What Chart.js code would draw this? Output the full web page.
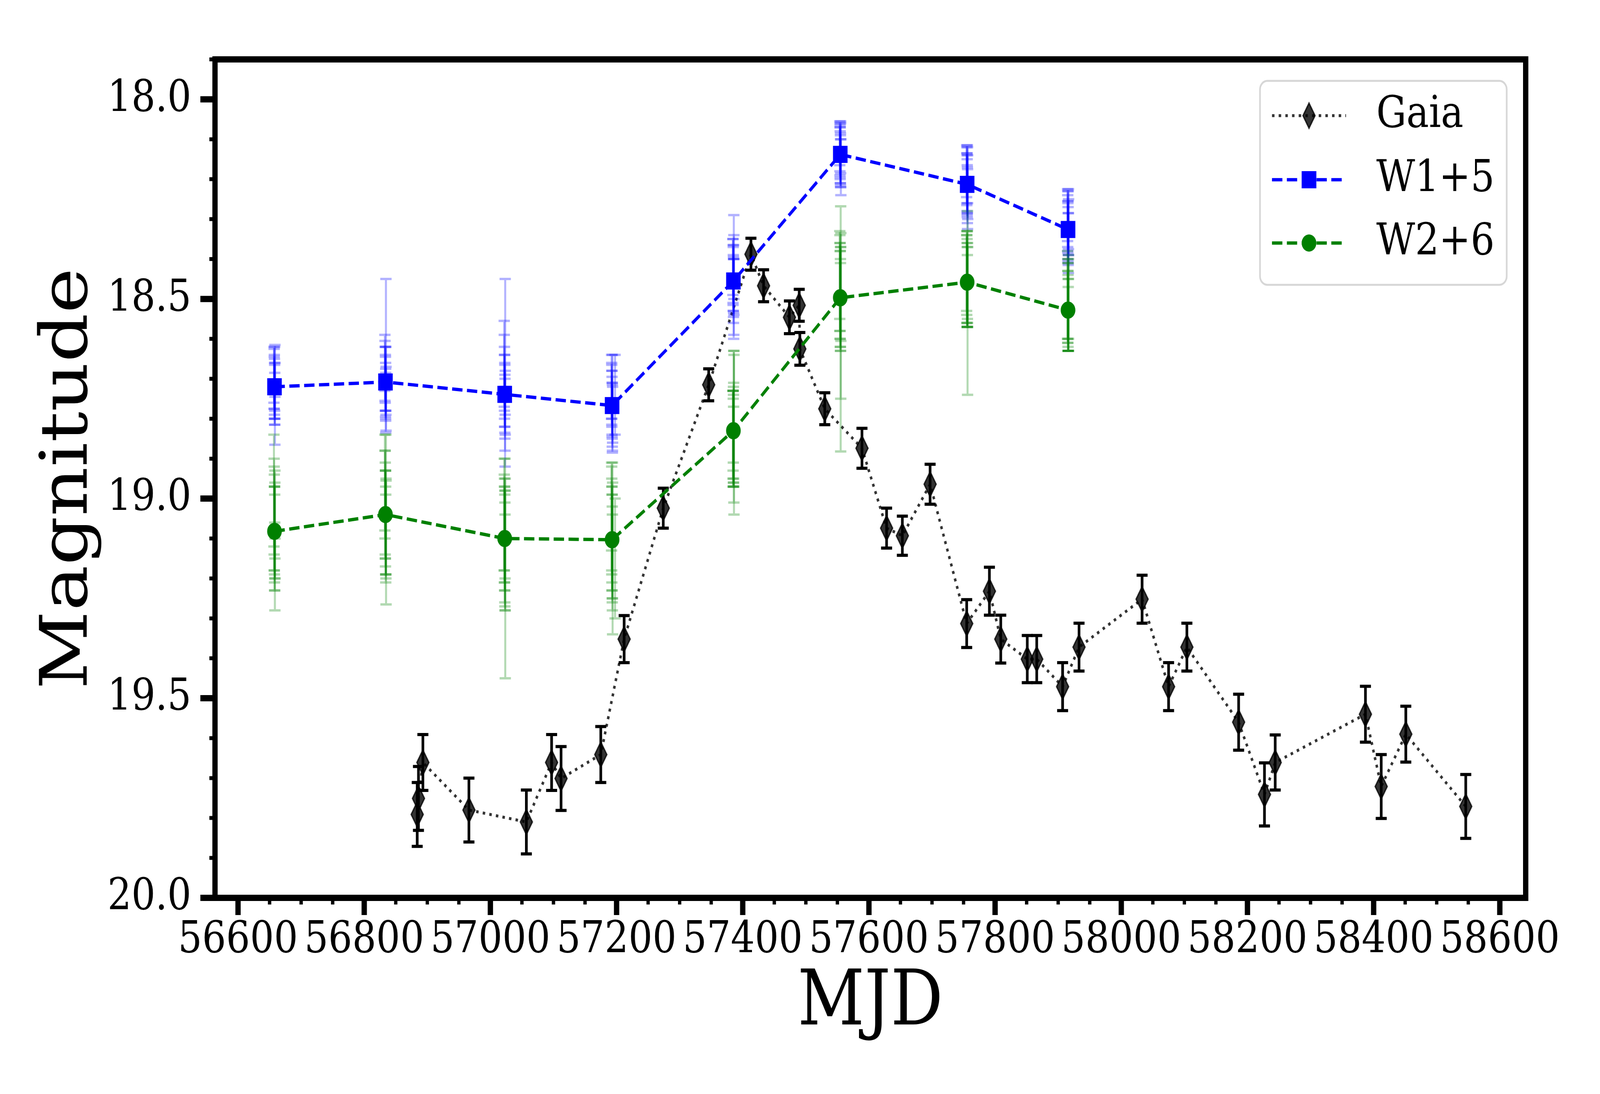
<!DOCTYPE html>
<html>
<head>
<meta charset="utf-8">
<title>Light curve</title>
<script src="https://cdn.jsdelivr.net/npm/chart.js@4.4.1/dist/chart.umd.min.js"></script>
<style>
    html, body { margin: 0; padding: 0; background: #fff; overflow: hidden; }
    #wrap { width: 4800px; height: 2800px; transform-origin: 0 0; }
    canvas { display: block; }
</style>
</head>
<body>
<div id="wrap"><canvas id="lc" width="4800" height="2800"></canvas></div>
<script>
// Gaia G photometry
const gaiaMjd = [56884, 56886, 56893, 56966, 57057, 57097, 57112, 57175, 57212, 57274,
    57346, 57413, 57433, 57474, 57489.5, 57490.5, 57530, 57589, 57628, 57653,
    57697, 57755, 57791, 57809, 57851, 57866, 57907, 57933, 58033, 58075,
    58104, 58186, 58227, 58244, 58387, 58412, 58451, 58546];
const gaiaMag = [19.791, 19.751, 19.661, 19.780, 19.810, 19.661, 19.701, 19.641, 19.352, 19.024,
    18.715, 18.388, 18.467, 18.546, 18.516, 18.625, 18.775, 18.874, 19.074, 19.093,
    18.964, 19.313, 19.232, 19.352, 19.402, 19.402, 19.471, 19.372, 19.252, 19.471,
    19.372, 19.560, 19.741, 19.661, 19.540, 19.721, 19.590, 19.771];
const gaiaErr = [0.080, 0.080, 0.070, 0.080, 0.080, 0.070, 0.080, 0.070, 0.059, 0.050,
    0.040, 0.040, 0.040, 0.041, 0.040, 0.041, 0.040, 0.050, 0.050, 0.049,
    0.050, 0.060, 0.060, 0.060, 0.059, 0.059, 0.060, 0.060, 0.060, 0.060,
    0.060, 0.070, 0.079, 0.069, 0.070, 0.080, 0.070, 0.080];

// WISE visit means (already offset by +5 / +6)
const wiseMjd = [56657.8, 56833.7, 57022.7, 57192.9, 57385.2, 57554.6, 57755.7, 57915.6];
const w1Mean = [18.720, 18.708, 18.739, 18.767, 18.455, 18.138, 18.213, 18.326];
const w2Mean = [19.082, 19.040, 19.100, 19.103, 18.830, 18.497, 18.458, 18.528];

// single exposures of each visit
const wiseSingleMjd = [
    [56656.9, 56657.2, 56657.3, 56657.5, 56657.7, 56657.8, 56658.0, 56658.1, 56658.2, 56658.4, 56658.5, 56658.7],
    [56832.8, 56833.0, 56833.3, 56833.4, 56833.6, 56833.7, 56833.9, 56834.0, 56834.1, 56834.4, 56834.5, 56834.6],
    [57021.9, 57022.0, 57022.3, 57022.4, 57022.6, 57022.8, 57022.9, 57023.0, 57023.2, 57023.3, 57023.5, 57023.6],
    [57192.1, 57192.3, 57192.4, 57192.6, 57192.8, 57192.9, 57193.1, 57193.2, 57193.4, 57193.5, 57197.6, 57193.7],
    [57384.4, 57384.6, 57384.7, 57384.9, 57385.0, 57385.2, 57385.3, 57385.5, 57385.6, 57385.8, 57385.9, 57386.1],
    [57553.8, 57554.0, 57554.1, 57554.3, 57554.4, 57554.6, 57554.8, 57554.9, 57555.0, 57555.2, 57555.3, 57555.5],
    [57754.9, 57755.1, 57755.2, 57755.4, 57755.6, 57755.7, 57755.8, 57756.0, 57756.1, 57756.3, 57756.4, 57756.6],
    [57914.8, 57915.0, 57915.1, 57915.3, 57915.4, 57915.6, 57915.7, 57915.9, 57916.0, 57916.2, 57916.3, 57916.5]
];
const w1Single = [
    [18.69, 18.70, 18.71, 18.72, 18.72, 18.73, 18.74, 18.70, 18.75, 18.79, 18.68, 18.73],
    [18.66, 18.68, 18.69, 18.70, 18.71, 18.72, 18.73, 18.74, 18.76, 18.62, 18.70, 18.75],
    [18.64, 18.68, 18.70, 18.72, 18.73, 18.74, 18.75, 18.77, 18.79, 18.82, 18.62, 18.76],
    [18.72, 18.73, 18.74, 18.75, 18.76, 18.77, 18.78, 18.79, 18.80, 18.76, 18.74, 18.79],
    [18.42, 18.43, 18.44, 18.45, 18.46, 18.47, 18.48, 18.45, 18.50, 18.44, 18.42, 18.47],
    [18.11, 18.12, 18.13, 18.13, 18.14, 18.14, 18.15, 18.15, 18.16, 18.12, 18.14, 18.17],
    [18.18, 18.19, 18.20, 18.21, 18.21, 18.22, 18.23, 18.24, 18.20, 18.25, 18.19, 18.22],
    [18.29, 18.30, 18.31, 18.32, 18.33, 18.33, 18.34, 18.35, 18.31, 18.36, 18.30, 18.32]
];
const w1SingleErr = [
    [0.070, 0.075, 0.065, 0.080, 0.070, 0.070, 0.075, 0.080, 0.065, 0.075, 0.065, 0.070],
    [0.070, 0.075, 0.070, 0.080, 0.070, 0.075, 0.070, 0.065, 0.075, 0.170, 0.080, 0.080],
    [0.085, 0.090, 0.080, 0.080, 0.090, 0.080, 0.085, 0.080, 0.090, 0.100, 0.170, 0.080],
    [0.080, 0.070, 0.075, 0.070, 0.080, 0.075, 0.070, 0.080, 0.085, 0.120, 0.100, 0.070],
    [0.070, 0.080, 0.075, 0.080, 0.070, 0.075, 0.080, 0.085, 0.100, 0.150, 0.080, 0.070],
    [0.055, 0.060, 0.060, 0.065, 0.060, 0.070, 0.060, 0.065, 0.060, 0.065, 0.080, 0.070],
    [0.065, 0.070, 0.065, 0.070, 0.075, 0.070, 0.065, 0.070, 0.085, 0.075, 0.070, 0.080],
    [0.065, 0.070, 0.070, 0.065, 0.070, 0.075, 0.070, 0.065, 0.080, 0.075, 0.075, 0.070]
];
const w2Single = [
    [18.98, 19.02, 19.05, 19.06, 19.08, 19.09, 19.10, 19.11, 19.13, 19.12, 19.04, 19.15],
    [18.96, 18.99, 19.01, 19.03, 19.04, 19.05, 19.06, 19.08, 19.10, 19.02, 19.07, 19.11],
    [19.04, 19.06, 19.08, 19.09, 19.10, 19.11, 19.12, 19.14, 19.16, 19.05, 19.13, 19.20],
    [19.02, 19.05, 19.07, 19.09, 19.10, 19.11, 19.12, 19.14, 19.16, 19.08, 19.15, 19.15],
    [18.84, 18.85, 18.83, 18.86, 18.82, 18.84, 18.85, 18.87, 18.83, 18.80, 18.82, 18.84],
    [18.44, 18.46, 18.47, 18.48, 18.49, 18.50, 18.51, 18.52, 18.50, 18.575, 18.56, 18.47],
    [18.43, 18.44, 18.45, 18.46, 18.46, 18.47, 18.45, 18.48, 18.44, 18.51, 18.46, 18.47],
    [18.49, 18.50, 18.51, 18.52, 18.53, 18.53, 18.54, 18.55, 18.52, 18.51, 18.54, 18.50]
];
const w2SingleErr = [
    [0.14, 0.12, 0.13, 0.12, 0.11, 0.12, 0.13, 0.12, 0.07, 0.16, 0.11, 0.05],
    [0.12, 0.11, 0.13, 0.12, 0.11, 0.12, 0.13, 0.11, 0.11, 0.18, 0.12, 0.155],
    [0.14, 0.12, 0.13, 0.12, 0.13, 0.12, 0.14, 0.13, 0.12, 0.15, 0.15, 0.25],
    [0.11, 0.13, 0.12, 0.12, 0.13, 0.12, 0.13, 0.12, 0.12, 0.17, 0.15, 0.19],
    [0.11, 0.12, 0.10, 0.11, 0.09, 0.12, 0.11, 0.10, 0.12, 0.17, 0.19, 0.20],
    [0.11, 0.12, 0.11, 0.12, 0.11, 0.12, 0.11, 0.11, 0.13, 0.307, 0.19, 0.135],
    [0.10, 0.10, 0.11, 0.10, 0.11, 0.10, 0.12, 0.09, 0.11, 0.23, 0.10, 0.10],
    [0.11, 0.10, 0.10, 0.09, 0.10, 0.09, 0.09, 0.08, 0.11, 0.12, 0.09, 0.10]
];

const xTickLabels = ['56600', '56800', '57000', '57200', '57400', '57600', '57800', '58000', '58200', '58400', '58600'];
const yTickLabels = ['18.0', '18.5', '19.0', '19.5', '20.0'];

const FONT = '"DejaVu Serif", "Liberation Serif", serif';

// the chart is laid out on a 4800x2800 canvas; squeeze it into whatever window we get
const wrap = document.getElementById('wrap');
wrap.style.transform = 'scale(' + (window.innerWidth / 4800) + ',' + (window.innerHeight / 2800) + ')';

function errBar(ctx, xs, ys, t, m, e, cap) {
    const px = xs.getPixelForValue(t);
    const top = ys.getPixelForValue(m - e);
    const bot = ys.getPixelForValue(m + e);
    ctx.beginPath();
    ctx.moveTo(px, top);
    ctx.lineTo(px, bot);
    ctx.moveTo(px - cap, top);
    ctx.lineTo(px + cap, top);
    ctx.moveTo(px - cap, bot);
    ctx.lineTo(px + cap, bot);
    ctx.stroke();
}

// thin diamond like matplotlib 'd'
function drawDiamond(ctx, cx, cy) {
    ctx.beginPath();
    ctx.moveTo(cx, cy - 32);
    ctx.lineTo(cx + 18, cy);
    ctx.lineTo(cx, cy + 32);
    ctx.lineTo(cx - 18, cy);
    ctx.closePath();
    ctx.fillStyle = 'rgba(0,0,0,0.8)';
    ctx.fill();
    ctx.lineWidth = 4;
    ctx.strokeStyle = 'rgba(0,0,0,0.8)';
    ctx.stroke();
}

const errorBars = {
    id: 'errorBars',
    beforeDatasetDraw(chart, args) {
        const { ctx, scales: { x, y } } = chart;
        const label = chart.data.datasets[args.index].label;
        ctx.save();
        if (label === 'Gaia') {
            ctx.strokeStyle = '#000';
            ctx.lineWidth = 8;
            gaiaMjd.forEach((t, i) => errBar(ctx, x, y, t, gaiaMag[i], gaiaErr[i], 16.5));
        } else {
            const mags = label === 'W1+5' ? w1Single : w2Single;
            const errs = label === 'W1+5' ? w1SingleErr : w2SingleErr;
            ctx.strokeStyle = label === 'W1+5' ? 'rgba(0,0,255,0.3)' : 'rgba(0,128,0,0.3)';
            ctx.lineWidth = 6;
            wiseSingleMjd.forEach((visit, k) => {
                visit.forEach((t, i) => errBar(ctx, x, y, t, mags[k][i], errs[k][i], 17));
            });
        }
        ctx.restore();
    },
    afterDatasetDraw(chart, args) {
        if (chart.data.datasets[args.index].label !== 'Gaia') return;
        const { ctx } = chart;
        ctx.save();
        args.meta.data.forEach(pt => drawDiamond(ctx, pt.x, pt.y));
        ctx.restore();
    }
};

const frameAndTicks = {
    id: 'frameAndTicks',
    afterDraw(chart) {
        const { ctx, chartArea: a, scales: { x, y } } = chart;
        ctx.save();
        ctx.strokeStyle = '#000';

        // minor ticks
        ctx.lineWidth = 10;
        ctx.beginPath();
        for (let v = 56550; v <= 58650; v += 50) {
            if (v % 200 === 0) continue;
            const px = x.getPixelForValue(v);
            if (px < a.left || px > a.right) continue;
            ctx.moveTo(px, a.bottom);
            ctx.lineTo(px, a.bottom + 17);
        }
        for (let i = 179; i <= 200; i++) {
            if (i % 5 === 0) continue;
            const py = y.getPixelForValue(i / 10);
            ctx.moveTo(a.left, py);
            ctx.lineTo(a.left - 17, py);
        }
        ctx.stroke();

        // major ticks
        ctx.lineWidth = 16;
        ctx.beginPath();
        xTickLabels.forEach(t => {
            const px = x.getPixelForValue(+t);
            ctx.moveTo(px, a.bottom);
            ctx.lineTo(px, a.bottom + 44);
        });
        yTickLabels.forEach(t => {
            const py = y.getPixelForValue(+t);
            ctx.moveTo(a.left, py);
            ctx.lineTo(a.left - 44, py);
        });
        ctx.stroke();

        // spines
        ctx.lineWidth = 16;
        ctx.strokeRect(a.left, a.top, a.right - a.left, a.bottom - a.top);
        ctx.restore();
    }
};

const legendBox = {
    id: 'legendBox',
    afterDraw(chart) {
        const { ctx, chartArea: a } = chart;
        const w = 740, h = 522, r = 22;
        const left = a.right - 57 - w;
        const top = a.top + 55;
        ctx.save();
        ctx.beginPath();
        ctx.moveTo(left + r, top);
        ctx.arcTo(left + w, top, left + w, top + h, r);
        ctx.arcTo(left + w, top + h, left, top + h, r);
        ctx.arcTo(left, top + h, left, top, r);
        ctx.arcTo(left, top, left + w, top, r);
        ctx.closePath();
        ctx.fillStyle = 'rgba(255,255,255,0.8)';
        ctx.fill();
        ctx.lineWidth = 5;
        ctx.strokeStyle = 'rgba(204,204,204,0.8)';
        ctx.stroke();

        const rows = [
            { text: 'Gaia', dy: 89, color: 'rgba(0,0,0,0.8)', lw: 7.5, dash: [7.5, 12.5], mark: 'diamond' },
            { text: 'W1+5', dy: 253, color: '#0000ff', lw: 8.5, dash: [31, 13.5], mark: 'rect' },
            { text: 'W2+6', dy: 415, color: '#008000', lw: 8.5, dash: [31, 13.5], mark: 'circle' }
        ];
        rows.forEach(row => {
            const cy = top + row.dy;
            const cx = left + 147;
            ctx.save();
            ctx.strokeStyle = row.color;
            ctx.lineWidth = row.lw;
            ctx.setLineDash(row.dash);
            ctx.beginPath();
            ctx.moveTo(left + 36, cy);
            ctx.lineTo(left + 258, cy);
            ctx.stroke();
            ctx.restore();
            if (row.mark === 'diamond') {
                drawDiamond(ctx, cx, cy);
            } else if (row.mark === 'rect') {
                ctx.fillStyle = row.color;
                ctx.fillRect(cx - 22, cy - 22, 44, 44);
            } else {
                ctx.fillStyle = row.color;
                ctx.beginPath();
                ctx.arc(cx, cy, 22, 0, Math.PI * 2);
                ctx.fill();
            }
            ctx.fillStyle = '#000';
            ctx.font = '113px ' + FONT;
            ctx.textAlign = 'left';
            ctx.textBaseline = 'middle';
            ctx.fillText(row.text, left + 349, cy);
        });
        ctx.restore();
    }
};

Chart.defaults.font.family = FONT;
Chart.defaults.color = '#000';

new Chart(document.getElementById('lc'), {
    type: 'line',
    data: {
        datasets: [
            {
                label: 'Gaia',
                data: gaiaMjd.map((t, i) => ({ x: t, y: gaiaMag[i] })),
                borderColor: 'rgba(0,0,0,0.8)',
                borderWidth: 7.5,
                borderDash: [7.5, 12.5],
                pointRadius: 0,
                tension: 0,
                order: 3
            },
            {
                label: 'W1+5',
                data: wiseMjd.map((t, i) => ({ x: t, y: w1Mean[i] })),
                borderColor: '#0000ff',
                backgroundColor: '#0000ff',
                pointBackgroundColor: '#0000ff',
                pointBorderColor: '#0000ff',
                borderWidth: 8.5,
                borderDash: [31, 13.5],
                pointStyle: 'rect',
                pointRadius: 29.5,
                pointBorderWidth: 2,
                tension: 0,
                order: 2
            },
            {
                label: 'W2+6',
                data: wiseMjd.map((t, i) => ({ x: t, y: w2Mean[i] })),
                borderColor: '#008000',
                backgroundColor: '#008000',
                pointBackgroundColor: '#008000',
                pointBorderColor: '#008000',
                borderWidth: 8.5,
                borderDash: [31, 13.5],
                pointStyle: 'circle',
                pointRadius: 21,
                pointBorderWidth: 2,
                tension: 0,
                order: 1
            }
        ]
    },
    options: {
        responsive: false,
        animation: false,
        devicePixelRatio: 1,
        events: [],
        layout: { padding: { top: 152, right: 223, left: 0, bottom: 0 } },
        plugins: {
            legend: { display: false },
            tooltip: { enabled: false }
        },
        scales: {
            x: {
                type: 'linear',
                min: 56563.5,
                max: 58641,
                grid: { display: false, drawTicks: false },
                border: { display: false },
                afterBuildTicks: sc => { sc.ticks = xTickLabels.map(t => ({ value: +t })); },
                afterFit: sc => { sc.height = 502; },
                ticks: {
                    font: { size: 113 },
                    color: '#000',
                    padding: 42,
                    autoSkip: false,
                    maxRotation: 0,
                    minRotation: 0,
                    callback: (v, i) => xTickLabels[i]
                },
                title: {
                    display: true,
                    text: 'MJD',
                    color: '#000',
                    font: { size: 196, lineHeight: 1 },
                    padding: { top: 0, bottom: 131 }
                }
            },
            y: {
                type: 'linear',
                reverse: true,
                min: 17.9,
                max: 20.0,
                grid: { display: false, drawTicks: false },
                border: { display: false },
                afterBuildTicks: sc => { sc.ticks = yTickLabels.map(t => ({ value: +t })); },
                afterFit: sc => { sc.width = 645; },
                ticks: {
                    font: { size: 113 },
                    color: '#000',
                    padding: 71,
                    callback: (v, i) => yTickLabels[i]
                },
                title: {
                    display: true,
                    text: 'Magnitude',
                    color: '#000',
                    font: { size: 196, lineHeight: 1 },
                    padding: { top: 111, bottom: 0 }
                }
            }
        }
    },
    plugins: [errorBars, frameAndTicks, legendBox]
});
</script>
</body>
</html>
